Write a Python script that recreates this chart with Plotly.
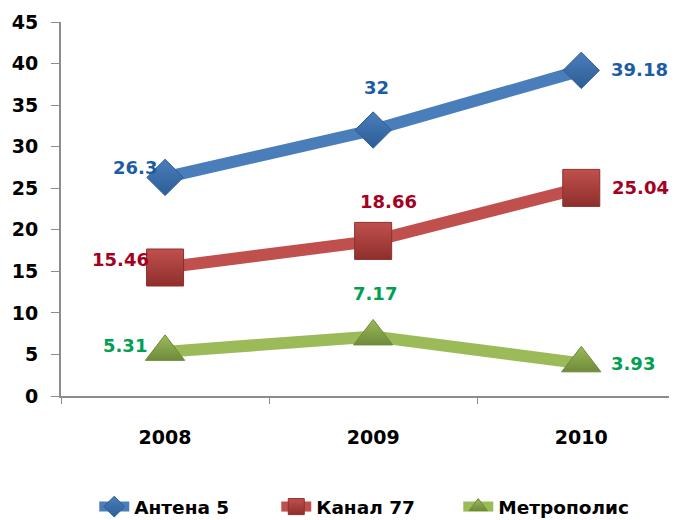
import plotly.graph_objects as go

# Values
years = ["2008", "2009", "2010"]
antena5 = [26.3, 32, 39.18]
kanal77 = [15.46, 18.66, 25.04]
metropolis = [5.31, 7.17, 3.93]
y_ticks = [0, 5, 10, 15, 20, 25, 30, 35, 40, 45]

FONT = "DejaVu Sans"

series = [
    # name, values, line colour, marker symbol, marker size, outline, label colour
    ("Антена 5", antena5, "#4A7EBB", "diamond", 28, "#2C5D96", "#1B5CA3"),
    ("Канал 77", kanal77, "#C0504D", "square", 37, "#8E2F2C", "#A50021"),
    ("Метрополис", metropolis, "#9BBB59", "triangle-up", 34, "#6F8A3A", "#00A050"),
]

# label offsets (px) for each year: left of first, above middle, right of last
label_shift = {
    "Антена 5": [(-30, 10), (3, 43), (58, 1)],
    "Канал 77": [(-45, 8), (15, 39), (59, 0)],
    "Метрополис": [(-40, 6), (2, 43), (52, 0)],
}

fig = go.Figure()
annotations = []
for name, vals, col, sym, size, edge, lab in series:
    fig.add_trace(go.Scatter(
        x=years, y=vals, name=name, mode="lines+markers",
        line=dict(color=col, width=12),
        marker=dict(symbol=sym, size=size, color=col,
                    line=dict(color=edge, width=1),
                    gradient=dict(type="vertical", color=edge)),
    ))
    for i, v in enumerate(vals):
        dx, dy = label_shift[name][i]
        annotations.append(dict(
            x=i, y=v, xref="x", yref="y", text=f"{v:g}", showarrow=False,
            xshift=dx, yshift=dy,
            font=dict(family=FONT, size=18, color=lab, weight="bold"),
        ))

# page body has an 8px margin, so the figure is sized 8px smaller
fig.update_layout(
    width=669, height=512,
    margin=dict(l=53, r=0, t=14, b=124, autoexpand=False),
    paper_bgcolor="white", plot_bgcolor="white",
    showlegend=True,
    legend=dict(orientation="h", x=0.054, xanchor="left", y=-0.297, yanchor="middle",
                font=dict(family=FONT, size=18.5, color="black", weight="bold"),
                entrywidth=137, traceorder="normal"),
    annotations=annotations,
    font=dict(family=FONT),
)
fig.update_xaxes(
    type="category", range=[-0.5, 2.46], automargin=False,
    showline=True, linecolor="#8C8C8C", linewidth=2,
    ticks="outside", ticklen=6, tickcolor="#8C8C8C", tickson="boundaries",
    ticklabelstandoff=23, showgrid=False, zeroline=False,
    tickfont=dict(family=FONT, size=19, color="black", weight="bold"),
)
fig.update_yaxes(
    range=[0, 45], tickvals=y_ticks, automargin=False,
    showline=True, linecolor="#8C8C8C", linewidth=2,
    ticks="outside", ticklen=8, tickcolor="#8C8C8C",
    ticklabelstandoff=9, showgrid=False, zeroline=False,
    tickfont=dict(family=FONT, size=19, color="black", weight="bold"),
)

fig.write_html("out.html")
